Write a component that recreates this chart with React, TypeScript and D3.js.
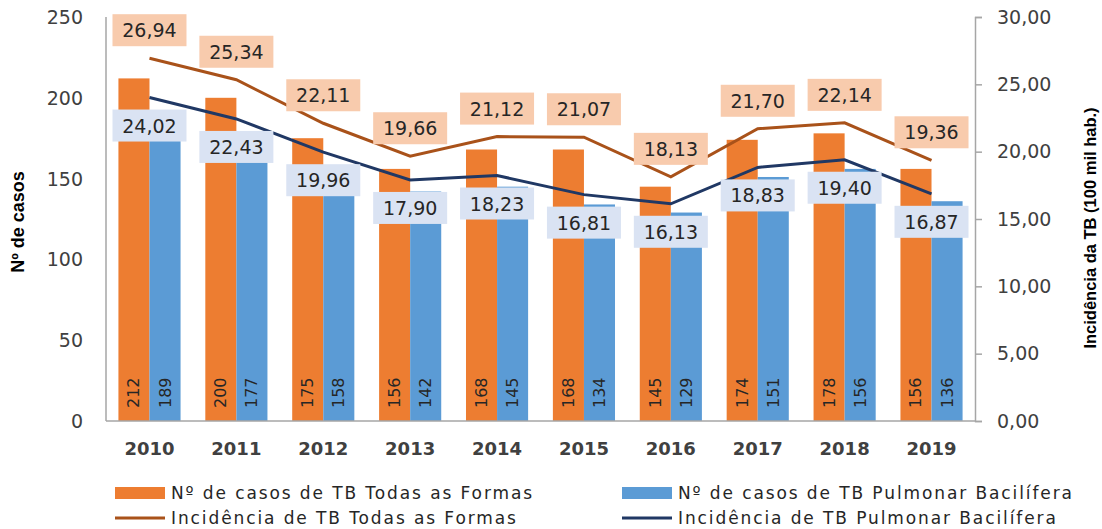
import { useEffect, useRef } from 'react'
import * as d3 from 'd3'

const years = ['2010', '2011', '2012', '2013', '2014', '2015', '2016', '2017', '2018', '2019']
const casosTodas = [212, 200, 175, 156, 168, 168, 145, 174, 178, 156]
const casosPulmonar = [189, 177, 158, 142, 145, 134, 129, 151, 156, 136]
const incTodas = [26.94, 25.34, 22.11, 19.66, 21.12, 21.07, 18.13, 21.7, 22.14, 19.36]
const incPulmonar = [24.02, 22.43, 19.96, 17.9, 18.23, 16.81, 16.13, 18.83, 19.4, 16.87]
const leftTicks = [0, 50, 100, 150, 200, 250]
const rightTicks = [0, 5, 10, 15, 20, 25, 30]

const W = 1102
const H = 529
const FONT = 'DejaVu Sans, Verdana, sans-serif'

export default function App() {
    const svgRef = useRef<SVGSVGElement>(null)

    useEffect(() => {
        if (!svgRef.current) return
        const svg = d3.select(svgRef.current)
        svg.selectAll('*').remove()

        const plot = { left: 106, right: 975, top: 17, bottom: 421 }
        const fmt = (v: number) => v.toFixed(2).replace('.', ',')

        const x = d3.scaleBand().domain(years).range([plot.left, plot.right]).paddingInner(0.285).paddingOuter(0.143)
        const xSub = d3.scaleBand().domain(['todas', 'pulm']).range([0, x.bandwidth()])
        const yL = d3.scaleLinear().domain([0, 250]).range([plot.bottom, plot.top])
        const yR = d3.scaleLinear().domain([0, 30]).range([plot.bottom, plot.top])
        const cx = (y: string) => (x(y) as number) + x.bandwidth() / 2

        svg.append('rect').attr('width', W).attr('height', H).attr('fill', '#fff')

        // bars
        const series = [
            { key: 'todas', vals: casosTodas, color: '#ED7D31' },
            { key: 'pulm', vals: casosPulmonar, color: '#5B9BD5' },
        ]
        series.forEach(s => {
            svg.append('g').selectAll('rect')
                .data(s.vals)
                .enter().append('rect')
                .attr('x', (d, i) => (x(years[i]) as number) + (xSub(s.key) as number))
                .attr('y', d => yL(d))
                .attr('width', xSub.bandwidth())
                .attr('height', d => yL(0) - yL(d))
                .attr('fill', s.color)

            // value inside bar, rotated
            svg.append('g').selectAll('text')
                .data(s.vals)
                .enter().append('text')
                .attr('transform', (d, i) => {
                    const bx = (x(years[i]) as number) + (xSub(s.key) as number) + xSub.bandwidth() / 2
                    return `translate(${bx},${yL(0) - 13}) rotate(-90)`
                })
                .attr('dominant-baseline', 'central')
                .attr('font-family', FONT)
                .attr('font-size', 16)
                .attr('fill', '#262626')
                .text(d => d)
        })

        // axes lines
        svg.append('line').attr('x1', plot.left).attr('x2', plot.left).attr('y1', plot.top).attr('y2', plot.bottom)
            .attr('stroke', '#A6A6A6').attr('stroke-width', 1.5)
        svg.append('line').attr('x1', plot.left).attr('x2', plot.right).attr('y1', plot.bottom).attr('y2', plot.bottom)
            .attr('stroke', '#A6A6A6').attr('stroke-width', 1.5)

        // left ticks
        svg.append('g').selectAll('text')
            .data(leftTicks)
            .enter().append('text')
            .attr('x', 83)
            .attr('y', d => yL(d))
            .attr('text-anchor', 'end')
            .attr('dominant-baseline', 'central')
            .attr('font-family', FONT)
            .attr('font-size', 19)
            .attr('fill', '#404040')
            .text(d => d)

        // right axis
        const right = svg.append('g').attr('transform', `translate(${plot.right},0)`)
        right.call(
            d3.axisRight(yR).tickValues(rightTicks).tickSize(7).tickPadding(15).tickFormat(d => fmt(d as number))
        )
        right.select('.domain').attr('stroke', '#A6A6A6').attr('stroke-width', 1.5)
        right.selectAll('.tick line').attr('stroke', '#A6A6A6').attr('stroke-width', 1.5)
        right.selectAll('.tick text')
            .attr('font-family', FONT)
            .attr('font-size', 19)
            .attr('fill', '#404040')

        // year labels
        svg.append('g').selectAll('text')
            .data(years)
            .enter().append('text')
            .attr('x', d => cx(d))
            .attr('y', 448)
            .attr('text-anchor', 'middle')
            .attr('dominant-baseline', 'central')
            .attr('font-family', FONT)
            .attr('font-size', 18)
            .attr('font-weight', 'bold')
            .attr('fill', '#404040')
            .text(d => d)

        // axis titles
        svg.append('text')
            .attr('transform', `translate(18,222) rotate(-90)`)
            .attr('text-anchor', 'middle')
            .attr('dominant-baseline', 'central')
            .attr('font-family', 'Liberation Sans, Arial, sans-serif')
            .attr('font-weight', 'bold')
            .attr('font-size', 18)
            .attr('fill', '#000')
            .text('Nº de casos')
        svg.append('text')
            .attr('transform', `translate(1090,228) rotate(-90)`)
            .attr('text-anchor', 'middle')
            .attr('dominant-baseline', 'central')
            .attr('font-family', 'Liberation Sans, Arial, sans-serif')
            .attr('font-weight', 'bold')
            .attr('font-size', 16.5)
            .attr('fill', '#000')
            .text('Incidência da TB (100 mil hab.)')

        // lines
        const lines = [
            { vals: incTodas, color: '#A9521A', fill: '#F8CBAD', off: -28 },
            { vals: incPulmonar, color: '#203864', fill: '#DAE3F3', off: 28 },
        ]
        lines.forEach(l => {
            const line = d3.line<number>().x((d, i) => cx(years[i])).y(d => yR(d))
            svg.append('path')
                .attr('d', line(l.vals))
                .attr('fill', 'none')
                .attr('stroke', l.color)
                .attr('stroke-width', 3)
        })

        // data labels with boxes
        lines.forEach(l => {
            const g = svg.append('g').selectAll('g')
                .data(l.vals)
                .enter().append('g')
                .attr('transform', (d, i) => `translate(${cx(years[i])},${yR(d) + l.off})`)
            g.append('rect')
                .attr('x', -37).attr('y', -16)
                .attr('width', 74).attr('height', 32)
                .attr('fill', l.fill)
            g.append('text')
                .attr('text-anchor', 'middle')
                .attr('dominant-baseline', 'central')
                .attr('font-family', FONT)
                .attr('font-size', 19)
                .attr('fill', '#262626')
                .text(d => fmt(d))
        })

        // legend
        const legend = [
            { x: 115, y: 493, type: 'rect', color: '#ED7D31', label: 'Nº de casos de TB Todas as Formas' },
            { x: 622, y: 493, type: 'rect', color: '#5B9BD5', label: 'Nº de casos de TB Pulmonar Bacilífera' },
            { x: 115, y: 518, type: 'line', color: '#A9521A', label: 'Incidência de TB Todas as Formas' },
            { x: 622, y: 518, type: 'line', color: '#203864', label: 'Incidência de TB Pulmonar Bacilífera' },
        ]
        const lg = svg.append('g').selectAll('g').data(legend).enter().append('g')
            .attr('transform', d => `translate(${d.x},${d.y})`)
        lg.filter(d => d.type === 'rect').append('rect')
            .attr('x', 0).attr('y', -6).attr('width', 50).attr('height', 12)
            .attr('fill', d => d.color)
        lg.filter(d => d.type === 'line').append('line')
            .attr('x1', 0).attr('x2', 50).attr('y1', 0).attr('y2', 0)
            .attr('stroke', d => d.color).attr('stroke-width', 3)
        lg.append('text')
            .attr('x', 56)
            .attr('dominant-baseline', 'central')
            .attr('font-family', FONT)
            .attr('font-size', 17)
            .attr('letter-spacing', 1.9)
            .attr('fill', '#262626')
            .text(d => d.label)
    }, [])

    return (
        <div style={{ position: 'absolute', left: 0, top: 0 }}>
            <svg ref={svgRef} width={W} height={H} style={{ display: 'block' }} />
        </div>
    )
}
